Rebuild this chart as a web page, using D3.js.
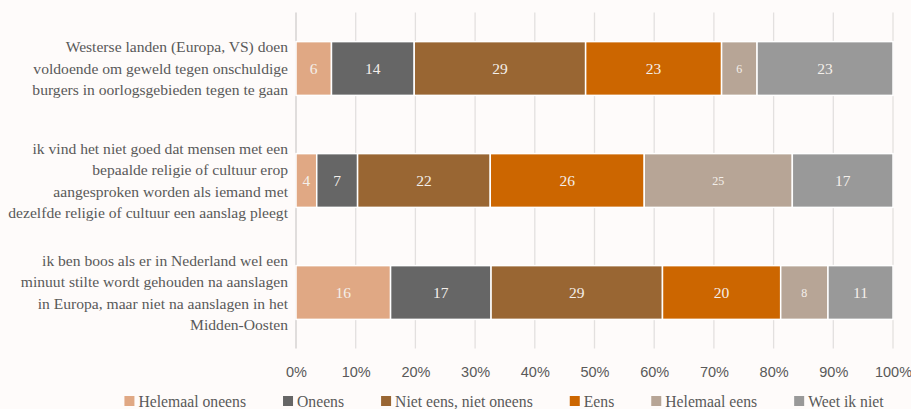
<!DOCTYPE html>
<html>
<head>
<meta charset="utf-8">
<script src="https://cdn.jsdelivr.net/npm/d3@7"></script>
<style>
  html, body { margin: 0; padding: 0; background: #fefbfa; }
  svg { display: block; font-family: "Liberation Serif", "Times New Roman", serif; }
</style>
</head>
<body>
<div id="chart"></div>
<script>
(function () {
  // Statements (line breaks as in the original chart)
  const categories = [
    "Westerse landen (Europa, VS) doen\nvoldoende om geweld tegen onschuldige\nburgers in oorlogsgebieden tegen te gaan",
    "ik vind het niet goed dat mensen met een\nbepaalde religie of cultuur erop\naangesproken worden als iemand met\ndezelfde religie of cultuur een aanslag pleegt",
    "ik ben boos als er in Nederland wel een\nminuut stilte wordt gehouden na aanslagen\nin Europa, maar niet na aanslagen in het\nMidden-Oosten"
  ];

  const seriesNames = ["Helemaal oneens", "Oneens", "Niet eens, niet oneens", "Eens", "Helemaal eens", "Weet ik niet"];
  const seriesColors = ["#e0a884", "#666666", "#996633", "#cc6600", "#b7a596", "#999999"];

  // values per series, one entry per statement
  const helemaalOneens = [6, 3.5, 16];
  const oneens = [14, 6.9, 17];
  const nietEensNietOneens = [29, 22.4, 29];
  const eens = [23, 26, 20];
  const helemaalEens = [6, 25, 8];
  const weetIkNiet = [23, 17, 11];

  const tickValues = [0, 0.1, 0.2, 0.3, 0.4, 0.5, 0.6, 0.7, 0.8, 0.9, 1];

  const seriesValues = [helemaalOneens, oneens, nietEensNietOneens, eens, helemaalEens, weetIkNiet];

  const width = 911, height = 409;
  const svg = d3.select("#chart").append("svg").attr("width", width).attr("height", height);

  const x = d3.scaleLinear().domain([0, 1]).range([296, 893]);
  const y = d3.scaleBand().domain(d3.range(categories.length)).range([12.5, 348.5])
    .paddingInner(0.52).paddingOuter(0.26);

  // build rows normalised to 100%
  const rows = categories.map((c, i) => {
    const row = { i };
    const total = d3.sum(seriesValues, (s) => s[i]);
    seriesNames.forEach((n, k) => { row[n] = seriesValues[k][i] / total; row["raw_" + n] = seriesValues[k][i]; });
    return row;
  });
  const stacked = d3.stack().keys(seriesNames)(rows);

  // gridlines
  svg.append("g").selectAll("line").data(tickValues.slice(1)).join("line")
    .attr("x1", (d) => x(d)).attr("x2", (d) => x(d))
    .attr("y1", 12.5).attr("y2", 348.5)
    .attr("stroke", "#e3e0df").attr("stroke-width", 1.3);
  svg.append("line")
    .attr("x1", x(0)).attr("x2", x(0)).attr("y1", 12.5).attr("y2", 348.5)
    .attr("stroke", "#d6d3d2").attr("stroke-width", 1.5);

  // x axis labels
  const xAxis = d3.axisBottom(x).tickValues(tickValues).tickFormat(d3.format(".0%")).tickSize(0).tickPadding(0);
  const gx = svg.append("g").attr("transform", "translate(0,367)").call(xAxis);
  gx.select(".domain").remove();
  gx.selectAll("text").attr("fill", "#595959").style("font-size", "14.5px").style("font-family", "inherit");

  // bars
  const layer = svg.append("g").selectAll("g").data(stacked).join("g")
    .attr("fill", (d, k) => seriesColors[k]);

  layer.selectAll("rect").data((d) => d).join("rect")
    .attr("x", (d) => x(d[0]))
    .attr("width", (d) => x(d[1]) - x(d[0]))
    .attr("y", (d) => y(d.data.i))
    .attr("height", y.bandwidth())
    .attr("stroke", "#ffffff").attr("stroke-width", 1.5);

  layer.selectAll("text").data((d) => d.map((v) => ({ key: d.key, v }))).join("text")
    .attr("x", (d) => (x(d.v[0]) + x(d.v[1])) / 2)
    .attr("y", (d) => y(d.v.data.i) + y.bandwidth() / 2)
    .attr("dy", "0.35em")
    .attr("text-anchor", "middle")
    .attr("fill", "#f4efea")
    .style("font-size", (d) => (d.key === "Helemaal eens" ? "12px" : "15.5px"))
    .text((d) => Math.round(d.v.data["raw_" + d.key]));

  // category labels
  const lineH = 21.5;
  const cat = svg.append("g").selectAll("text").data(categories).join("text")
    .attr("text-anchor", "end")
    .attr("fill", "#595959")
    .style("font-size", "15.6px");
  cat.each(function (c, i) {
    const lines = c.split("\n");
    const cy = y(i) + y.bandwidth() / 2;
    const y0 = cy - ((lines.length - 1) * lineH) / 2;
    d3.select(this).selectAll("tspan").data(lines).join("tspan")
      .attr("x", 288)
      .attr("y", (d, j) => y0 + j * lineH)
      .attr("dy", "0.35em")
      .text((d) => d);
  });

  // legend
  const legend = svg.append("g");
  const items = legend.selectAll("g").data(seriesNames).join("g");
  items.append("rect").attr("width", 10).attr("height", 10).attr("y", -5)
    .attr("fill", (d, k) => seriesColors[k]);
  items.append("text").attr("x", 14).attr("dy", "0.35em")
    .attr("fill", "#595959").style("font-size", "15.7px").text((d) => d);
  let pos = 0;
  items.each(function () {
    d3.select(this).attr("transform", `translate(${pos},401)`);
    pos += 14 + this.querySelector("text").getComputedTextLength() + 37;
  });
  const legendWidth = pos - 37;
  legend.attr("transform", `translate(${504 - legendWidth / 2},0)`);
})();
</script>
</body>
</html>
